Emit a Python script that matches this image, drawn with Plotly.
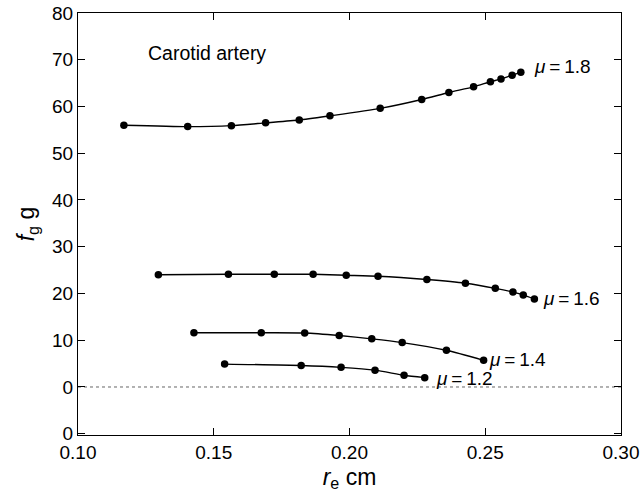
import plotly.graph_objects as go

r_18 = [0.1169, 0.1404, 0.1565, 0.1691, 0.1815, 0.1928, 0.2113, 0.2266, 0.2366, 0.2457, 0.2519, 0.2558, 0.2599, 0.2631]
f_18 = [56.0, 55.7, 55.9, 56.5, 57.1, 58.0, 59.6, 61.5, 63.0, 64.2, 65.3, 65.9, 66.7, 67.3]

r_16 = [0.1296, 0.1554, 0.1723, 0.1866, 0.1988, 0.2105, 0.2285, 0.2427, 0.2537, 0.2602, 0.2640, 0.2681]
f_16 = [24.0, 24.1, 24.1, 24.1, 23.9, 23.7, 23.0, 22.2, 21.1, 20.3, 19.7, 18.8]

r_14 = [0.1427, 0.1675, 0.1835, 0.1962, 0.2082, 0.2194, 0.2357, 0.2494]
f_14 = [11.6, 11.6, 11.55, 11.0, 10.3, 9.5, 7.85, 5.7]

r_12 = [0.1540, 0.1822, 0.1969, 0.2094, 0.2201, 0.2277]
f_12 = [4.9, 4.6, 4.2, 3.6, 2.5, 2.0]

mu_labels = ["1.8", "1.6", "1.4", "1.2"]
mu_label_pos = [(0.2786, 68.5), (0.2816, 19.0), (0.2620, 5.8), (0.2422, 1.9)]

ytick_vals = [-10, 0, 10, 20, 30, 40, 50, 60, 70, 80]
ytick_text = ["0", "0", "10", "20", "30", "40", "50", "60", "70", "80"]
xtick_vals = [0.10, 0.15, 0.20, 0.25, 0.30]

font = "Liberation Sans, Arial, sans-serif"

fig = go.Figure()

# dotted zero line
fig.add_trace(go.Scatter(x=[0.10, 0.30], y=[0, 0], mode="lines",
                         line=dict(color="#666666", width=1, dash="dot"),
                         showlegend=False, hoverinfo="skip"))

for xs, ys in [(r_18, f_18), (r_16, f_16), (r_14, f_14), (r_12, f_12)]:
    fig.add_trace(go.Scatter(
        x=xs, y=ys, mode="lines+markers",
        line=dict(color="black", width=1.4, shape="spline", smoothing=0.6),
        marker=dict(color="black", size=7.5),
        showlegend=False))

for lab, (lx, ly) in zip(mu_labels, mu_label_pos):
    fig.add_annotation(x=lx, y=ly, text="<i>μ</i>\u2009=\u2009" + lab,
                       showarrow=False, font=dict(size=19, color="black"))

fig.add_annotation(x=0.125, y=71.4, text="Carotid artery", xanchor="left",
                   showarrow=False, font=dict(size=19.5, color="black"))

fig.update_layout(
    width=643, height=495,
    margin=dict(l=78, r=22, t=13, b=60),
    paper_bgcolor="white", plot_bgcolor="white",
    font=dict(family=font, size=19, color="black"),
    xaxis=dict(range=[0.10, 0.30], tickvals=xtick_vals, tickformat=".2f",
               ticks="inside", ticklen=7, tickcolor="black",
               showline=True, linecolor="black", linewidth=1.2, mirror="ticks",
               showgrid=False, zeroline=False, automargin=False,
               ticklabeloverflow="allow",
               title=dict(text="<i>r</i><sub>e</sub> cm", standoff=6)),
    yaxis=dict(range=[-10.27, 80], tickvals=ytick_vals, ticktext=ytick_text,
               ticks="inside", ticklen=7, tickcolor="black",
               showline=True, linecolor="black", linewidth=1.2, mirror="ticks",
               showgrid=False, zeroline=False, automargin=False,
               ticklabeloverflow="allow",
               title=dict(text="<i>f</i><sub>g</sub> g", standoff=10)),
)

fig.write_html("out.html", config={"displayModeBar": False},
               post_script="document.body.style.margin='0';")
